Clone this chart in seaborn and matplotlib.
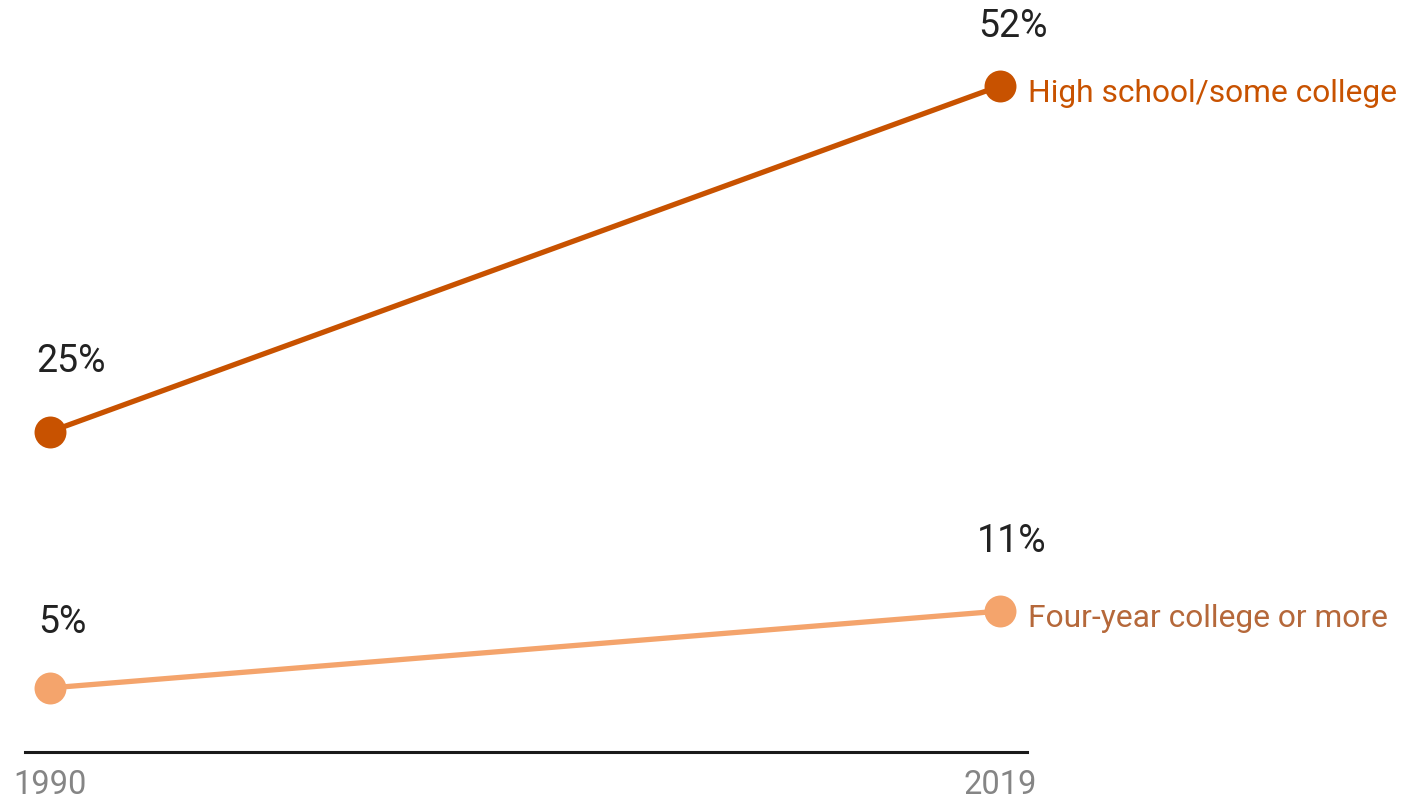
import matplotlib
matplotlib.use("Agg")
import matplotlib.pyplot as plt
import seaborn as sns
import pandas as pd

years = [1990, 2019]
series_names = ["High school/some college", "Four-year college or more"]
hs_values = [25, 52]
college_values = [5, 11]
value_labels_hs = ["25%", "52%"]
value_labels_col = ["5%", "11%"]

line_colors = ["#C85200", "#F4A46C"]
name_colors = ["#C85200", "#B5683A"]

sns.set_theme(style="white")
plt.rcParams['font.family'] = ['Roboto', 'DejaVu Sans']

df = pd.DataFrame({
    "year": years * 2,
    "value": hs_values + college_values,
    "series": [series_names[0]] * 2 + [series_names[1]] * 2,
})

fig = plt.figure(figsize=(14.07, 8.02), dpi=100)
ax = fig.add_axes([25 / 1407, 50 / 802, 1002 / 1407, 752 / 802])

sns.lineplot(data=df, x="year", y="value", hue="series", palette=line_colors,
             marker="o", markersize=23, markeredgewidth=0, linewidth=3.8,
             legend=False, ax=ax, hue_order=series_names)

ax.set_xlim(1989.24, 2019.82)
ax.set_ylim(0, 58.7)
ax.set_xticks(years)
ax.set_xticklabels([str(y) for y in years])
ax.set_yticks([])
ax.set_xlabel("")
ax.set_ylabel("")
for s in ["top", "right", "left"]:
    ax.spines[s].set_visible(False)
ax.spines["bottom"].set_color("#1a1a1a")
ax.spines["bottom"].set_linewidth(2.2)
ax.tick_params(axis="x", length=0, pad=12, labelsize=23.5, labelcolor="#858585")

# value labels: (dx, dy) pixel offsets
offsets_hs = [(21, 60), (13, 49)]
offsets_col = [(13, 55), (11, 59)]
for vals, labs, offs in [(hs_values, value_labels_hs, offsets_hs),
                          (college_values, value_labels_col, offsets_col)]:
    for x, v, lab, (dx, dy) in zip(years, vals, labs, offs):
        ax.annotate(lab, (x, v), xytext=(dx, dy), textcoords="offset pixels",
                    ha="center", va="baseline", fontsize=27, color="#222222")

# series name labels at right
for vals, name, c in [(hs_values, series_names[0], name_colors[0]),
                      (college_values, series_names[1], name_colors[1])]:
    ax.annotate(name, (years[-1], vals[-1]), xytext=(28, -16), textcoords="offset pixels",
                ha="left", va="baseline", fontsize=22.9, color=c, annotation_clip=False)

fig.savefig("out.png", dpi=100, facecolor="white")
